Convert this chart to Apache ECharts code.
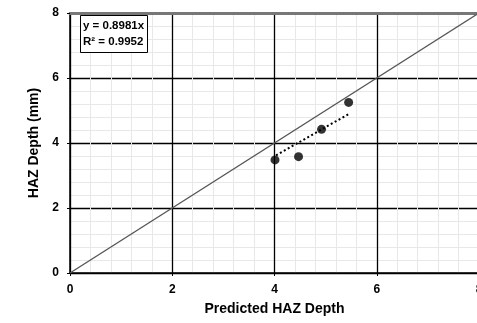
<!DOCTYPE html>
<html><head><meta charset="utf-8">
<script src="https://cdn.jsdelivr.net/npm/echarts@6/dist/echarts.min.js"></script>
<style>html,body{margin:0;padding:0;background:#fff}#c{width:477px;height:323px}</style>
</head><body><div id="c"></div>
<script>
const measured = [[4.01, 3.48], [4.47, 3.58], [4.92, 4.42], [5.45, 5.25]];
const trend = [[4.03, 3.62], [5.45, 4.89]];
const identity = [[0, 0], [8, 8]];
const axisTicks = [0, 2, 4, 6, 8];
const eqText = ['y = 0.8981x', 'R² = 0.9952'];
const xTitle = 'Predicted HAZ Depth';
const yTitle = 'HAZ Depth (mm)';
const FONT = 'Arial';

const chart = echarts.init(document.getElementById('c'), null, {renderer: 'canvas'});
const axisCommon = {
  min: axisTicks[0], max: axisTicks[axisTicks.length - 1], interval: 2,
  axisLine: {show: true, onZero: false, lineStyle: {color: '#000', width: 1.5}},
  axisTick: {show: true, length: 3, lineStyle: {color: '#000'}},
  axisLabel: {color: '#000', fontFamily: FONT, fontWeight: 'bold', fontSize: 12},
  splitLine: {show: true, lineStyle: {color: '#000', width: 1.3}},
  minorTick: {show: false, splitNumber: 5},
  minorSplitLine: {show: true, lineStyle: {color: '#e8e8e8', width: 1}},
  nameLocation: 'middle',
  nameTextStyle: {color: '#000', fontFamily: FONT, fontWeight: 'bold', fontSize: 14}
};
chart.setOption({
  animation: false,
  backgroundColor: '#fff',
  title: {
    text: eqText.join('\n'), left: 80, top: 15,
    padding: [3, 4, 3, 3], borderColor: '#000', borderWidth: 1, backgroundColor: '#fff',
    textStyle: {fontFamily: FONT, fontWeight: 'bold', fontSize: 11.5, lineHeight: 16, color: '#000'}
  },
  grid: {left: 70, top: 13, right: -2, bottom: 50, containLabel: false, outerBoundsMode: 'none'},
  xAxis: [
    Object.assign({}, axisCommon, {type: 'value', name: xTitle, nameGap: 29,
      axisLabel: Object.assign({}, axisCommon.axisLabel, {margin: 11})}),
    {type: 'value', position: 'top', min: 0, max: 8, interval: 2,
      axisLine: {show: true, onZero: false, lineStyle: {color: '#777', width: 3}},
      axisTick: {show: false}, axisLabel: {show: false}, splitLine: {show: false}}
  ],
  yAxis: Object.assign({}, axisCommon, {type: 'value', name: yTitle, nameGap: 28,
    axisLabel: Object.assign({}, axisCommon.axisLabel, {margin: 11})}),
  series: [
    {type: 'line', data: identity, symbol: 'none', lineStyle: {color: '#555', width: 1.3}, z: 3},
    {type: 'line', data: trend, symbol: 'none', lineStyle: {color: '#000', width: 2, type: [2, 2.5]}, z: 4},
    {type: 'scatter', data: measured, symbolSize: 9, itemStyle: {color: '#000'}, z: 5}
  ]
});
</script></body></html>
